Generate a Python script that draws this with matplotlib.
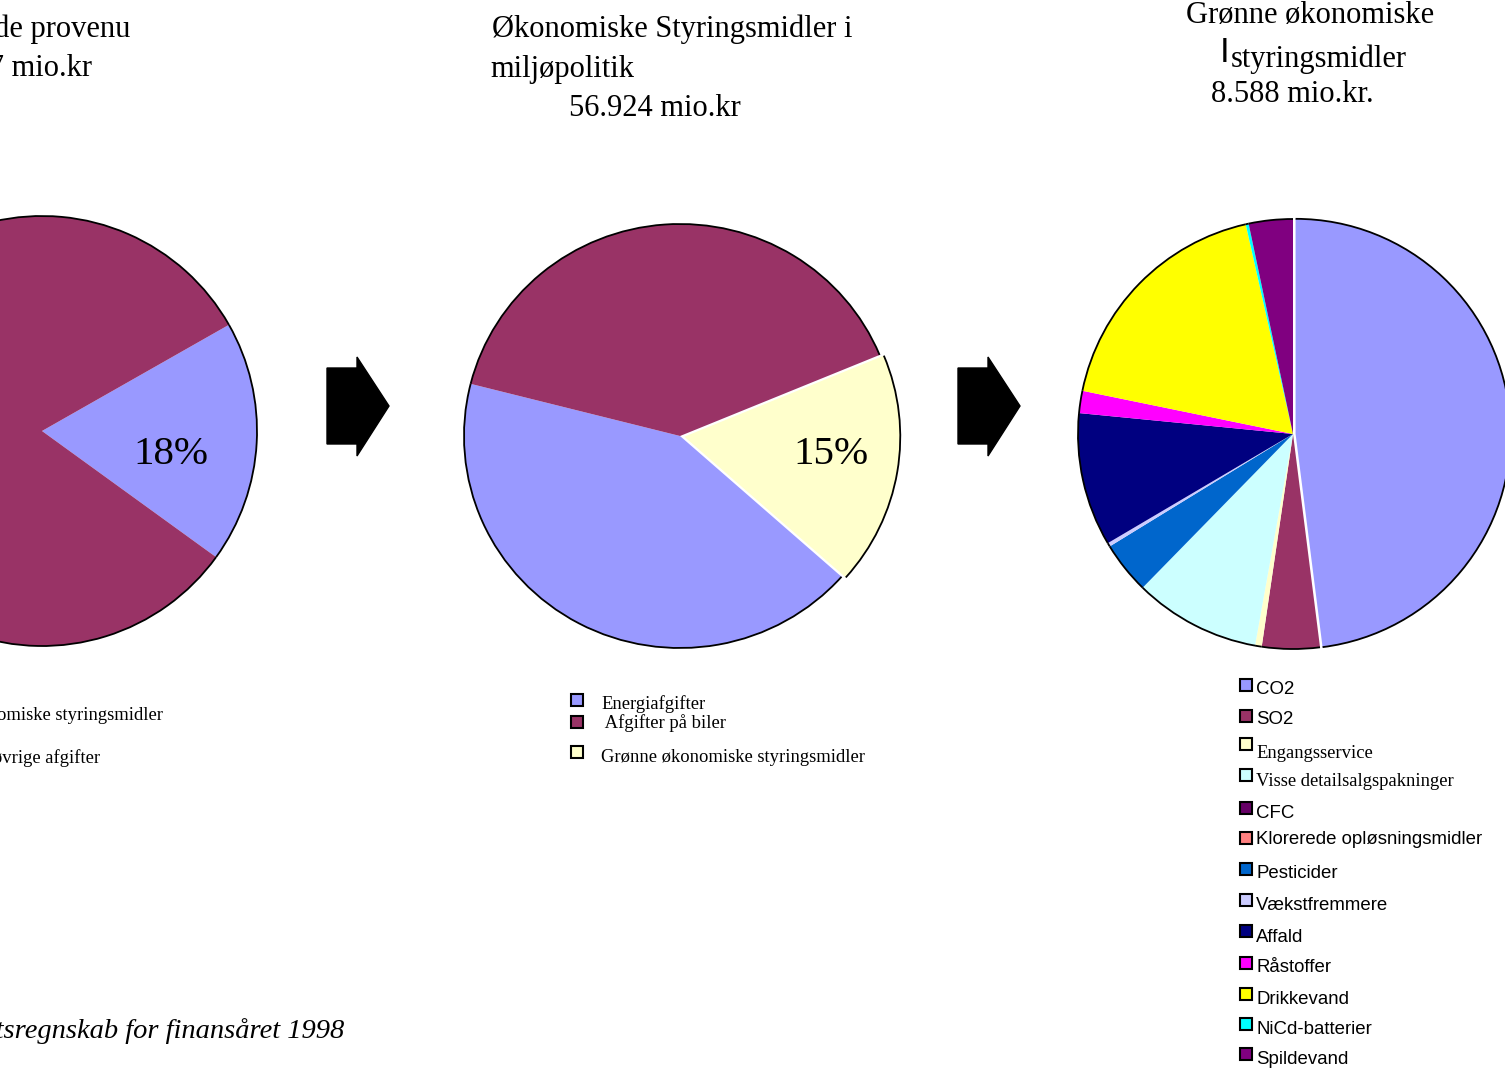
import matplotlib.pyplot as plt
from matplotlib.patches import Arc, Rectangle, Polygon

plt.rcParams["font.family"] = ["Liberation Serif", "DejaVu Serif"]

W, H = 1505, 1069

# shares (percent of each pie)
left_labels = ["Grønne økonomiske styringsmidler", "Alle øvrige afgifter"]
left_values = [18.2, 81.8]
left_colors = ["#9999FF", "#993366"]
left_pct = "18%"

mid_labels = ["Energiafgifter", " Afgifter på biler", "Grønne økonomiske styringsmidler"]
mid_values = [42.4, 39.8, 17.8]
mid_colors = ["#9999FF", "#993366", "#FFFFCC"]
mid_pct = "15%"

right_labels = ["CO2", "SO2", "Engangsservice", "Visse detailsalgspakninger", "CFC",
                "Klorerede opløsningsmidler", "Pesticider", "Vækstfremmere", "Affald",
                "Råstoffer", "Drikkevand", "NiCd-batterier", "Spildevand"]
right_values = [48.0, 4.33, 0.5, 9.5, 0.0, 0.0, 3.92, 0.28, 10.03, 1.67, 18.25, 0.22, 3.31]
right_colors = ["#9999FF", "#993366", "#FFFFCC", "#CCFFFF", "#660066", "#FF8080", "#0066CC",
                "#CCCCFF", "#000080", "#FF00FF", "#FFFF00", "#00FFFF", "#800080"]
right_serif = ["Engangsservice", "Visse detailsalgspakninger"]

fig = plt.figure(figsize=(W / 100, H / 100), dpi=100)


def pie_at(cx, cy, rx, ry, values, colors, start, explode=None):
    pad = 1.05
    ax = fig.add_axes([(cx - rx * pad) / W, 1 - (cy + ry * pad) / H,
                       2 * rx * pad / W, 2 * ry * pad / H])
    wedges, _ = ax.pie(values, colors=colors, startangle=start, counterclock=False,
                       explode=explode, radius=1, wedgeprops=dict(linewidth=0))
    for w in wedges:
        if w.theta2 - w.theta1 > 0.01:
            ax.add_patch(Arc(w.center, 2 * w.r, 2 * w.r, theta1=w.theta1, theta2=w.theta2,
                             color="black", lw=1.3))
    ax.set_aspect("auto")
    ax.set_xlim(-pad, pad)
    ax.set_ylim(-pad, pad)
    ax.axis("off")
    return ax


pie_at(42, 431, 215, 215, left_values, left_colors, 29.6)
pie_at(680, 436, 216, 212, mid_values, mid_colors, -41.6, explode=[0, 0, 0.02])
pie_at(1293, 434, 215, 215, right_values, right_colors, 90,
       explode=[0.012] + [0] * (len(right_values) - 1))

# overlay in pixel coordinates for texts, legends and arrows
ov = fig.add_axes([0, 0, 1, 1])
ov.set_xlim(0, W)
ov.set_ylim(H, 0)
ov.axis("off")

# titles
ov.text(130, 29, "Samlede provenu", fontsize=22, ha="right", va="center")
ov.text(92, 69, "316.247 mio.kr", fontsize=22, ha="right", va="center")
ov.text(492, 29, "Økonomiske Styringsmidler i", fontsize=22, ha="left", va="center")
ov.text(490, 69, "miljøpolitik", fontsize=22, ha="left", va="center")
ov.text(569, 109, "56.924 mio.kr", fontsize=22, ha="left", va="center")
ov.text(1186, 15, "Grønne økonomiske", fontsize=22, ha="left", va="center")
ov.text(1220, 52, "I", fontsize=25, ha="left", va="center", family="Liberation Sans")
ov.text(1231, 59, "styringsmidler", fontsize=22, ha="left", va="center")
ov.text(1211, 95, "8.588 mio.kr.", fontsize=22, ha="left", va="center")

# percent labels
ov.text(171, 454, left_pct, fontsize=29.5, ha="center", va="center")
ov.text(831, 454, mid_pct, fontsize=29.5, ha="center", va="center")

# arrows
for dx in [0, 631]:
    pts = [(327, 368), (357, 368), (357, 357), (389, 406), (357, 456), (357, 444), (327, 444)]
    ov.add_patch(Polygon([(x + dx, y) for x, y in pts], closed=True, color="black"))

# left legend (markers off the page)
left_text_y = [715, 758]
left_text_end = [163, 100]
for lab, y, xe in zip(left_labels, left_text_y, left_text_end):
    ov.text(xe, y, lab, fontsize=13.4, ha="right", va="center")

# middle legend
mid_mark_y = [700, 722, 752]
mid_text_y = [704, 723, 758]
for lab, col, my, ty in zip(mid_labels, mid_colors, mid_mark_y, mid_text_y):
    ov.add_patch(Rectangle((571, my - 6), 12, 12, facecolor=col, edgecolor="black", lw=1.5))
    ov.text(601, ty, lab, fontsize=13.4, ha="left", va="center")

# right legend
right_mark_y = [685, 716, 744, 775, 808, 838, 869, 900, 931, 963, 994, 1024, 1054]
right_text_y = [689, 720, 754, 781, 813, 839, 874, 906, 937, 967, 999, 1029, 1059]
for lab, col, my, ty in zip(right_labels, right_colors, right_mark_y, right_text_y):
    ov.add_patch(Rectangle((1240, my - 6), 12, 12, facecolor=col, edgecolor="black", lw=1.5))
    fam = "Liberation Serif" if lab in right_serif else "Liberation Sans"
    ov.text(1256, ty, lab, fontsize=13.4, ha="left", va="center", family=fam)

# source
ov.text(345, 1031, "Kilde: Statsregnskab for finansåret 1998", fontsize=20.5,
        style="italic", ha="right", va="center")

fig.savefig("out.png", dpi=100)
